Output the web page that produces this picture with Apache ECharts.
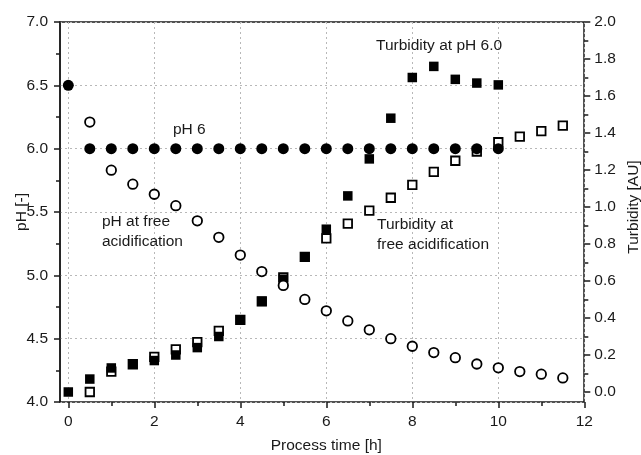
<!DOCTYPE html>
<html>
<head>
<meta charset="utf-8">
<script src="https://cdn.jsdelivr.net/npm/echarts@6/dist/echarts.min.js"></script>
<style>
html,body{margin:0;padding:0;background:#fff;}
#chart{width:641px;height:455px;}
</style>
</head>
<body>
<div id="chart"></div>
<script>
// ---- data ----
const timeControlPh = [0,0.5,1,1.5,2,2.5,3,3.5,4,4.5,5,5.5,6,6.5,7,7.5,8,8.5,9,9.5,10];
const phControl = [6.5,6.0,6.0,6.0,6.0,6.0,6.0,6.0,6.0,6.0,6.0,6.0,6.0,6.0,6.0,6.0,6.0,6.0,6.0,6.0,6.0];

const timeFreePh = [0.5,1,1.5,2,2.5,3,3.5,4,4.5,5,5.5,6,6.5,7,7.5,8,8.5,9,9.5,10,10.5,11,11.5];
const phFree = [6.21,5.83,5.72,5.64,5.55,5.43,5.30,5.16,5.03,4.92,4.81,4.72,4.64,4.57,4.50,4.44,4.39,4.35,4.30,4.27,4.24,4.22,4.19];

const timeTurbPh6 = [0,0.5,1,1.5,2,2.5,3,3.5,4,4.5,5,5.5,6,6.5,7,7.5,8,8.5,9,9.5,10];
const turbPh6 = [0.00,0.07,0.13,0.15,0.17,0.20,0.24,0.30,0.39,0.49,0.61,0.73,0.88,1.06,1.26,1.48,1.70,1.76,1.69,1.67,1.66];

const timeTurbFree = [0.5,1,1.5,2,2.5,3,3.5,4,4.5,5,5.5,6,6.5,7,7.5,8,8.5,9,9.5,10,10.5,11,11.5];
const turbFree = [0.00,0.11,0.15,0.19,0.23,0.27,0.33,0.39,0.49,0.62,0.73,0.83,0.91,0.98,1.05,1.12,1.19,1.25,1.30,1.35,1.38,1.41,1.44];

const xTicks = {min:0, max:12, interval:2};
const phTicks = {min:4, max:7, interval:0.5};
const turbTicks = {min:0, max:2, interval:0.2};

const annotations = [
  {text:'Turbidity at pH 6.0', x:376, y:47},
  {text:'pH 6', x:173, y:131},
  {text:'pH at free', x:102, y:223},
  {text:'acidification', x:102, y:243},
  {text:'Turbidity at', x:377, y:226},
  {text:'free acidification', x:377, y:246}
];

const zip = (a,b) => a.map((v,i)=>[v,b[i]]);
const FONT = '"Liberation Sans", Arial, sans-serif';
const FS = 15.5;
const TXT = '#1a1a1a';
const AX = '#1a1a1a';

const chart = echarts.init(document.getElementById('chart'), null, {renderer:'canvas'});
const option = {
  animation:false,
  backgroundColor:'#fff',
  textStyle:{fontFamily:FONT},
  grid:[
    {left:60, top:22, width:524, height:380, show:true, borderColor:AX, borderWidth:1.5, backgroundColor:'transparent', containLabel:false, outerBoundsMode:'none'},
    {left:68.3, top:22, width:516, height:380, containLabel:false, outerBoundsMode:'none'},
    {left:68.3, top:22, width:516, height:370, containLabel:false, outerBoundsMode:'none'}
  ],
  xAxis:[
    {gridIndex:0, type:'value', min:-0.2, max:12, show:false, axisLine:{onZero:false}},
    {gridIndex:1, type:'value', min:xTicks.min, max:xTicks.max, interval:xTicks.interval,
      axisLine:{show:false, onZero:false},
      axisTick:{show:true, inside:false, length:6, lineStyle:{color:AX, width:1.5}},
      minorTick:{show:true, splitNumber:2, length:4, lineStyle:{color:AX, width:1.5}},
      axisLabel:{fontSize:FS, color:TXT, margin:12, fontFamily:FONT},
      splitLine:{show:true, lineStyle:{color:'#b8b8b8', type:[2,3], width:1}},
      name:'Process time [h]', nameLocation:'middle', nameGap:36, nameMoveOverlap:false,
      nameTextStyle:{fontSize:FS, color:TXT, fontFamily:FONT}
    },
    {gridIndex:2, type:'value', min:xTicks.min, max:xTicks.max, show:false, axisLine:{onZero:false}}
  ],
  yAxis:[
    {gridIndex:0, type:'value', position:'left', min:phTicks.min, max:phTicks.max, interval:phTicks.interval,
      axisLine:{show:true, onZero:false, lineStyle:{color:AX, width:1.5}},
      axisTick:{show:true, inside:false, length:6, lineStyle:{color:AX, width:1.5}},
      minorTick:{show:true, splitNumber:2, length:4, lineStyle:{color:AX, width:1.5}},
      axisLabel:{fontSize:FS, color:TXT, margin:12, fontFamily:FONT, formatter:v=>v.toFixed(1)},
      splitLine:{show:true, lineStyle:{color:'#b8b8b8', type:[2,3], width:1}},
      name:'pH [-]', nameLocation:'middle', nameGap:30, nameRotate:90, nameMoveOverlap:false,
      nameTextStyle:{fontSize:FS, color:TXT, fontFamily:FONT}
    },
    {gridIndex:1, type:'value', min:phTicks.min, max:phTicks.max, show:false, axisLine:{onZero:false}},
    {gridIndex:2, type:'value', position:'right', min:turbTicks.min, max:turbTicks.max, interval:turbTicks.interval,
      axisLine:{show:false, onZero:false},
      axisTick:{show:true, inside:false, length:6, lineStyle:{color:AX, width:1.5}},
      minorTick:{show:true, splitNumber:2, length:4, lineStyle:{color:AX, width:1.5}},
      axisLabel:{fontSize:FS, color:TXT, margin:10, fontFamily:FONT, formatter:v=>v.toFixed(1)},
      splitLine:{show:false},
      name:'Turbidity [AU]', nameLocation:'middle', nameGap:41, nameRotate:90, nameMoveOverlap:false,
      nameTextStyle:{fontSize:FS, color:TXT, fontFamily:FONT}
    }
  ],
  series:[
    {name:'Turbidity at free acidification', type:'scatter', xAxisIndex:2, yAxisIndex:2, z:2,
      data:zip(timeTurbFree, turbFree), symbol:'rect', symbolSize:8.5,
      itemStyle:{color:'#fff', borderColor:'#000', borderWidth:1.8, opacity:1}},
    {name:'Turbidity at pH 6.0', type:'scatter', xAxisIndex:2, yAxisIndex:2, z:3,
      data:zip(timeTurbPh6, turbPh6), symbol:'rect', symbolSize:9.5,
      itemStyle:{color:'#000', opacity:1}},
    {name:'pH 6', type:'scatter', xAxisIndex:1, yAxisIndex:1, z:4,
      data:zip(timeControlPh, phControl), symbol:'circle', symbolSize:11,
      itemStyle:{color:'#000', opacity:1}},
    {name:'pH at free acidification', type:'scatter', xAxisIndex:1, yAxisIndex:1, z:5,
      data:zip(timeFreePh, phFree), symbol:'circle', symbolSize:9.5,
      itemStyle:{color:'#fff', borderColor:'#000', borderWidth:1.8, opacity:1}}
  ],
  graphic: annotations.map(a => ({
    type:'text', left:a.x, top:a.y - 9, z:10,
    style:{text:a.text, fontSize:FS, fontFamily:FONT, fill:TXT}
  }))
};
chart.setOption(option);
</script>
</body>
</html>
